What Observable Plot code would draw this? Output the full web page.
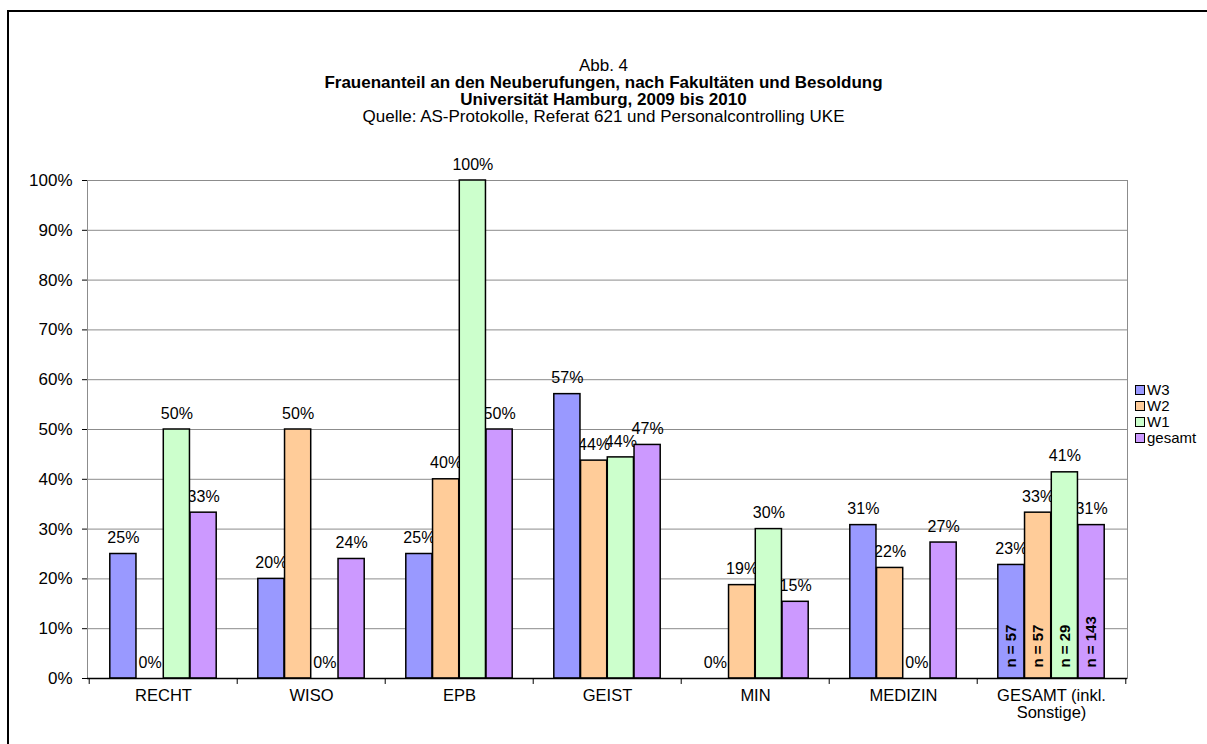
<!DOCTYPE html>
<html><head><meta charset="utf-8">
<script src="https://cdn.jsdelivr.net/npm/d3@7"></script>
<script src="https://cdn.jsdelivr.net/npm/@observablehq/plot@0.6"></script>
<style>
body{margin:0;background:#fff;font-family:"Liberation Sans",Arial,sans-serif;}
#wrap{position:relative;width:1207px;height:744px;overflow:hidden;}
#border{position:absolute;left:7px;top:10px;width:1210px;height:750px;border:2px solid #000;box-sizing:border-box;}
#title{position:absolute;left:0;top:57px;width:1207px;text-align:center;font-size:17px;line-height:17px;color:#000;}
#title div{height:17px;}
#legend{position:absolute;left:1135px;top:382px;font-size:15px;line-height:16px;}
#legend div{display:flex;align-items:center;height:16px;}
#legend span.sw{display:inline-block;width:8px;height:8px;border:1px solid #000;margin-right:2px;}
#chart{position:absolute;left:0;top:0;}
</style></head>
<body>
<div id="wrap">
<div id="chart"></div>
<div id="title"></div>
<div id="legend"></div>
<div id="border"></div>
</div>
<script>
const categories = ["RECHT","WISO","EPB","GEIST","MIN","MEDIZIN","GESAMT (inkl.\nSonstige)"];
const series = ["W3","W2","W1","gesamt"];
const W3 = [0.25, 0.20, 0.25, 0.571, 0.0, 0.308, 0.228];
const W2 = [0.0, 0.50, 0.40, 0.4375, 0.1875, 0.222, 0.333];
const W1 = [0.50, 0.0, 1.00, 0.444, 0.30, 0.0, 0.414];
const gesamt = [0.333, 0.24, 0.50, 0.469, 0.154, 0.273, 0.308];
const nLabels = ["n = 57","n = 57","n = 29","n = 143"];
const colors = ["#9999FF","#FFCC99","#CCFFCC","#CC99FF"];
const yTicks = [0,0.1,0.2,0.3,0.4,0.5,0.6,0.7,0.8,0.9,1.0];
const titleLines = ["Abb. 4","Frauenanteil an den Neuberufungen, nach Fakultäten und Besoldung","Universität Hamburg, 2009 bis 2010","Quelle: AS-Protokolle, Referat 621 und Personalcontrolling UKE"];

const seriesValues = [W3, W2, W1, gesamt];
const data = [];
series.forEach((s, j) => categories.forEach((c, i) => data.push({cat: c, series: s, value: seriesValues[j][i]})));

const width = 1207, height = 744;
const ml = 87, mr = 80, mt = 180, mb = 66;
const bw = (width - ml - mr) / categories.length;
const barW = bw * 0.18;
const inset = (bw - barW) / 2;
const fmt = d3.format(".0%");
const font = "Liberation Sans, Arial, sans-serif";

const marks = [
  Plot.gridY(yTicks, {stroke: "#8c8c8c", strokeOpacity: 1, strokeWidth: 1}),
  Plot.frame({stroke: "#8c8c8c"})
];
series.forEach((s, j) => {
  marks.push(Plot.text(data.filter(d => d.series === s), {
    x: "cat", y: "value", text: d => fmt(d.value),
    dx: (j - 1.5) * barW, dy: -16, fontSize: 16, fill: "#000"
  }));
});
series.forEach((s, j) => {
  marks.push(Plot.barY(data.filter(d => d.series === s), {
    x: "cat", y: "value", fill: colors[j], stroke: "#000", strokeWidth: 1.5,
    insetLeft: inset, insetRight: inset, dx: (j - 1.5) * barW
  }));
});
series.forEach((s, j) => {
  marks.push(Plot.text([nLabels[j]], {
    x: () => categories[categories.length - 1], y: () => 0, text: d => d,
    rotate: -90, textAnchor: "start", dx: (j - 1.5) * barW, dy: -11,
    fontWeight: "bold", fontSize: 15, fill: "#000"
  }));
});
// category boundary ticks
marks.push(Plot.ruleX(categories, {x: d => d, y1: () => 0, y2: () => -0.012, dx: -bw / 2, stroke: "#000"}));
marks.push(Plot.ruleX([categories[categories.length - 1]], {x: d => d, y1: () => 0, y2: () => -0.012, dx: bw / 2, stroke: "#000"}));
marks.push(Plot.axisY({ticks: yTicks, tickFormat: fmt, tickSize: 5, tickPadding: 10, fontSize: 17}));
marks.push(Plot.axisX({tickSize: 0, tickPadding: 11, fontSize: 16.5}));
marks.push(Plot.ruleY([0], {stroke: "#000", strokeWidth: 1.5}));

const chart = Plot.plot({
  width, height, marginLeft: ml, marginRight: mr, marginTop: mt, marginBottom: mb,
  style: {fontFamily: font, color: "#000", background: "transparent"},
  x: {type: "band", domain: categories, padding: 0, label: null},
  y: {domain: [0, 1], label: null, line: true},
  marks
});
chart.style.overflow = "visible";
document.getElementById("chart").appendChild(chart);

const t = document.getElementById("title");
titleLines.forEach((l, i) => {
  const d = document.createElement("div");
  if (i === 1 || i === 2) d.style.fontWeight = "bold";
  d.textContent = l;
  t.appendChild(d);
});
const lg = document.getElementById("legend");
series.forEach((s, j) => {
  const d = document.createElement("div");
  d.innerHTML = `<span class="sw" style="background:${colors[j]}"></span>${s}`;
  lg.appendChild(d);
});
</script>
</body></html>
